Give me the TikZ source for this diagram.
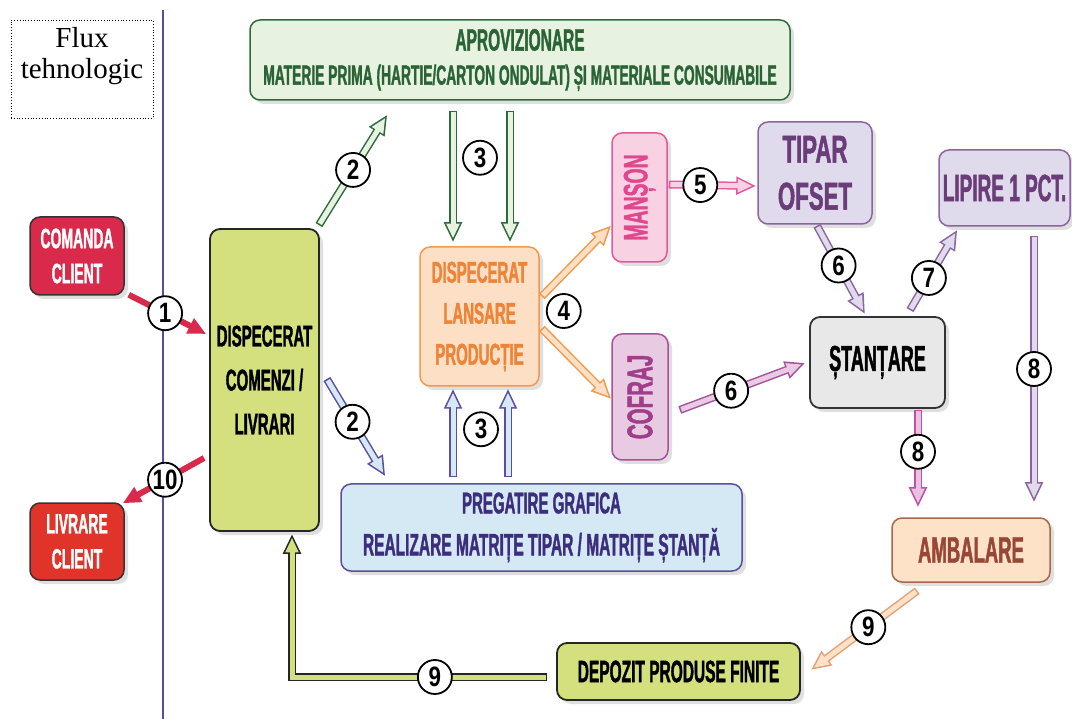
\documentclass[tikz,border=0pt]{standalone}
\usepackage{fontspec}
\setmainfont{Liberation Serif}
\newfontfamily\cfa[FakeStretch=0.5,BoldFeatures={FakeBold=1.2}]{Liberation Sans}
\newfontfamily\cfw[FakeStretch=0.57,BoldFeatures={FakeBold=1.2}]{Liberation Sans}
\newfontfamily\cfn[FakeStretch=0.8]{Liberation Sans}
\usetikzlibrary{arrows.meta,shadows,calc}
\definecolor{grnB}{HTML}{2E6B3C}
\definecolor{grnF}{HTML}{E8F2E0}
\definecolor{grnT}{HTML}{2A6436}
\definecolor{crim}{HTML}{DA2A4C}
\definecolor{redL}{HTML}{E0342B}
\definecolor{olive}{HTML}{D4E07E}
\definecolor{oraB}{HTML}{F29A4C}
\definecolor{oraF}{HTML}{FDDFC5}
\definecolor{oraT}{HTML}{EE8438}
\definecolor{pnkB}{HTML}{E5579C}
\definecolor{pnkF}{HTML}{F8D1E3}
\definecolor{pnkT}{HTML}{E0478F}
\definecolor{cofB}{HTML}{A6529B}
\definecolor{cofF}{HTML}{E8CBE3}
\definecolor{cofT}{HTML}{A03E8B}
\definecolor{lavB}{HTML}{8D649F}
\definecolor{lavF}{HTML}{DFDAEC}
\definecolor{lavT}{HTML}{6A3D78}
\definecolor{grayF}{HTML}{E8E8E8}
\definecolor{ambB}{HTML}{A8684C}
\definecolor{ambF}{HTML}{FDE2C8}
\definecolor{ambT}{HTML}{984736}
\definecolor{bluB}{HTML}{5C4D9E}
\definecolor{bluF}{HTML}{D5E9F5}
\definecolor{bluT}{HTML}{3C2E7C}
\definecolor{vlin}{HTML}{5A4AA0}
\definecolor{magB}{HTML}{C04FA5}
\definecolor{magF}{HTML}{E9C2E3}
\definecolor{tanB}{HTML}{E2A27A}
\newcommand\harrow[4]{\draw[hout,draw=#1] #3;\draw[hin,draw=#2] #3 #4;}
\begin{document}
\begin{tikzpicture}[x=1pt,y=-1pt,
  box/.style={rounded corners=10pt, line width=1.5pt, inner sep=0pt, align=center,
    drop shadow={shadow xshift=4pt,shadow yshift=-4pt,opacity=0.25}},
  fluxbox/.style={draw, dotted, line width=0.8pt, minimum width=142pt, minimum height=98pt, inner sep=0pt},
  fluxtext/.style={font=\fontsize{29pt}{31pt}\selectfont, align=center, inner sep=0pt},
  vline/.style={draw=vlin, line width=1.4pt},
  num/.style={circle, draw=black, line width=1.8pt, fill=white, minimum size=34pt, inner sep=0pt,
    font=\cfn\bfseries\fontsize{28pt}{30pt}\selectfont},
  hout/.style={line width=8pt, -{Triangle[length=20pt,width=17pt]}},
  hin/.style={line width=5pt, shorten <=1.6pt, shorten >=3.8pt, -{Triangle[length=14.7pt,width=12.4pt]}},
  solid arrow/.style={draw=crim, line width=6pt, -{Triangle[length=18pt,width=16pt]}},
]
\useasboundingbox (0,0) rectangle (1072,719);

% nodes
\node[fluxbox] (flux) at (82,69) {};
\node[fluxtext, anchor=north] (fluxt) at ($(flux.north)+(0,8)$) {Flux\\tehnologic};
\draw[vline] (163,10) -- (163,719);

\node[box, draw=grnB, fill=grnF, text=grnT, minimum width=540pt, minimum height=80pt,
  font=\cfa\bfseries\fontsize{31pt}{34pt}\selectfont] (aprov) at (520,60)
  {APROVIZIONARE\\{\fontsize{27.6pt}{34pt}\selectfont MATERIE PRIMA (HARTIE/CARTON ONDULAT) ȘI MATERIALE CONSUMABILE}};

\node[box, draw=black!80, fill=crim, text=white, minimum width=94pt, minimum height=78pt,
  font=\cfa\bfseries\fontsize{28pt}{35pt}\selectfont] (comanda) at (77,256) {COMANDA\\CLIENT};
\node[box, draw=black!80, fill=redL, text=white, minimum width=94pt, minimum height=77pt,
  font=\cfa\bfseries\fontsize{28pt}{35pt}\selectfont] (livrare) at (77,541.5) {LIVRARE\\CLIENT};

\node[box, draw=black!85, line width=1.8pt, fill=olive, text=black, minimum width=109pt, minimum height=302pt,
  font=\cfa\bfseries\fontsize{30pt}{44pt}\selectfont] (disp) at (264.5,380) {DISPECERAT\\COMENZI /\\LIVRARI};

\node[box, draw=oraB, fill=oraF, text=oraT, minimum width=119pt, minimum height=139pt,
  font=\cfa\bfseries\fontsize{30pt}{41pt}\selectfont] (dlp) at (479.5,316.5) {DISPECERAT\\LANSARE\\PRODUCȚIE};

\node[box, draw=pnkB, fill=pnkF, minimum width=55pt, minimum height=129pt,
  label={[rotate=90, text=pnkT, font=\cfw\bfseries\fontsize{34pt}{36pt}\selectfont]center:MANȘON}] (manson) at (639.5,197.5) {};
\node[box, draw=cofB, fill=cofF, minimum width=56pt, minimum height=126pt,
  label={[rotate=90, text=cofT, font=\cfw\bfseries\fontsize{36pt}{38pt}\selectfont]center:COFRAJ}] (cofraj) at (640,397) {};

\node[box, draw=lavB, fill=lavF, text=lavT, minimum width=114pt, minimum height=102pt,
  font=\cfw\bfseries\fontsize{39pt}{47pt}\selectfont] (tipar) at (815,173) {TIPAR\\OFSET};
\node[box, draw=lavB, fill=lavF, text=lavT, minimum width=131pt, minimum height=76pt,
  font=\cfa\bfseries\fontsize{38pt}{40pt}\selectfont] (lipire) at (1004.5,188) {LIPIRE 1 PCT.};

\node[box, draw=black!80, line width=1.8pt, fill=grayF, text=black, minimum width=135pt, minimum height=91pt,
  font=\cfa\bfseries\fontsize{36pt}{40pt}\selectfont] (stantare) at (877.5,362.5) {ȘTANȚARE};

\node[box, draw=ambB, fill=ambF, text=ambT, minimum width=158pt, minimum height=64pt,
  font=\cfa\bfseries\fontsize{37pt}{40pt}\selectfont] (ambalare) at (971,550) {AMBALARE};

\node[box, draw=bluB, fill=bluF, text=bluT, minimum width=401pt, minimum height=87pt,
  font=\cfa\bfseries\fontsize{30pt}{42pt}\selectfont] (pregatire) at (541.5,527.5)
  {PREGATIRE GRAFICA\\{\fontsize{31pt}{42pt}\selectfont REALIZARE MATRIȚE TIPAR / MATRIȚE ȘTANȚĂ}};

\node[box, draw=black!85, line width=1.8pt, fill=olive, text=black, minimum width=243pt, minimum height=57pt,
  font=\cfa\bfseries\fontsize{31pt}{36pt}\selectfont] (depozit) at (678.5,671.5) {DEPOZIT PRODUSE FINITE};

% connectors
\draw[solid arrow] ($(comanda.south east)+(4,-1)$) -- ($(disp.west)+(-3,-46)$) node[num,pos=0.47] {1};
\draw[solid arrow] ($(disp.west)+(-5,78)$) -- ($(livrare.north east)+(-2,1)$) node[num,pos=0.48] {10};

\harrow{grnB}{grnF}{($(disp.north east)+(-1,-3)$) -- ($(aprov.south west)+(138,14)$)}{node[num,pos=0.5]{2}}
\harrow{bluB}{bluF}{($(disp.east)+(7,-1)$) -- ($(pregatire.north west)+(45,-7)$)}{node[num,pos=0.44]{2}}

\harrow{grnB}{grnF}{($(aprov.south)+(-67,10)$) -- ($(dlp.north)+(-26.5,-4)$)}{}
\harrow{grnB}{grnF}{($(aprov.south)+(-10,10)$) -- ($(dlp.north)+(30.5,-4)$)}{}
\node[num] (n3a) at ($(aprov.south)+(-40,57)$) {3};

\harrow{bluB}{bluF}{($(pregatire.north)+(-88.5,-6)$) -- ($(dlp.south)+(-26.5,2)$)}{}
\harrow{bluB}{bluF}{($(pregatire.north)+(-33.5,-6)$) -- ($(dlp.south)+(28.5,2)$)}{}
\node[num] (n3b) at ($(pregatire.north)+(-60.5,-54)$) {3};

\harrow{oraB}{oraF}{($(dlp.east)+(2,-20)$) -- ($(manson.west)+(0,28)$)}{}
\harrow{oraB}{oraF}{($(dlp.east)+(2,12)$) -- ($(cofraj.west)+(0,2)$)}{}
\node[num] (n4) at ($(dlp.east)+(24,-5.5)$) {4};

\harrow{pnkB}{pnkF}{($(manson.east)+(1,-13)$) -- ($(tipar.west)+(-1,13)$)}{node[num,pos=0.36]{5}}
\harrow{lavB}{lavF}{($(tipar.south)+(2,1)$) -- ($(stantare.north)+(-12.5,-2)$)}{node[num,pos=0.45]{6}}
\harrow{cofB}{cofF}{($(cofraj.east)+(11,13)$) -- ($(stantare.west)+(-4,0.5)$)}{node[num,pos=0.41]{6}}
\harrow{lavB}{lavF}{($(stantare.north)+(32.5,-6)$) -- ($(lipire.south west)+(19,3)$)}{node[num,pos=0.4]{7}}
\harrow{magB}{magF}{($(stantare.south)+(40.5,1)$) -- ($(ambalare.north)+(-53,-10)$)}{node[num,pos=0.43]{8}}
\harrow{lavB}{lavF}{($(lipire.south)+(29.5,9)$) -- ($(ambalare.north)+(63,-15)$)}{node[num,pos=0.5]{8}}
\harrow{tanB}{ambF}{($(ambalare.south west)+(26,8)$) -- ($(depozit.east)+(10,-1.5)$)}{node[num,pos=0.46]{9}}
\harrow{black!85}{olive}{($(depozit.west)+(-9,5.5)$) -| ($(disp.south)+(27.5,2)$)}{node[num,pos=0.22]{9}}
\end{tikzpicture}
\end{document}
